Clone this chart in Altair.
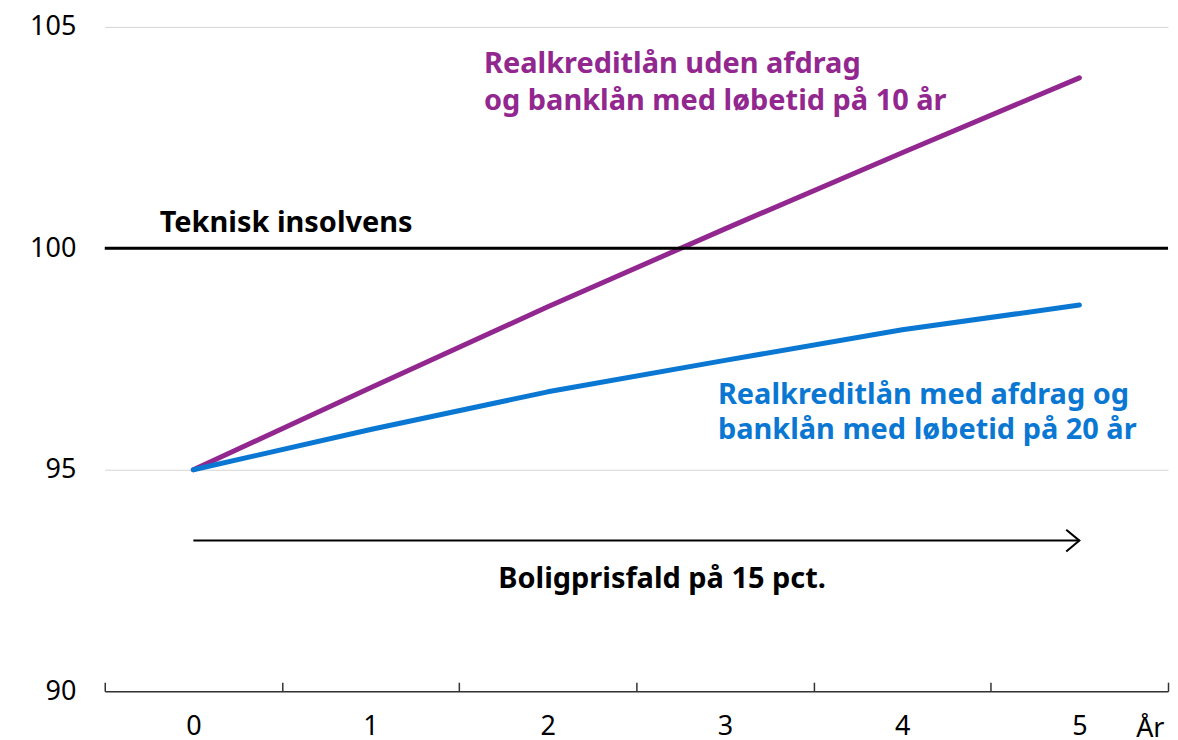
import altair as alt
import pandas as pd

years = [0, 1, 2, 3, 4, 5]
purple_vals = [95.0, 96.85, 98.68, 100.44, 102.16, 103.85]
blue_vals = [95.0, 95.91, 96.76, 97.47, 98.16, 98.72]
purple_name = "Realkreditlån uden afdrag og banklån med løbetid på 10 år"
blue_name = "Realkreditlån med afdrag og banklån med løbetid på 20 år"
colors = ["#92278F", "#0A78D2"]

y_ticks = [90, 95, 100, 105]
x_tick_bounds = [-0.5, 0.5, 1.5, 2.5, 3.5, 4.5, 5.5]
insolvency_level = [100]
arrow_start, arrow_end, arrow_level = [0], [5], [93.4]

ann_text = ["Realkreditlån uden afdrag", "og banklån med løbetid på 10 år",
            "Realkreditlån med afdrag og", "banklån med løbetid på 20 år",
            "Teknisk insolvens", "Boligprisfald på 15 pct."]
ann_x = [1.64, 1.64, 2.96, 2.96, -0.19, 2.645]
ann_y = [103.96, 103.13, 96.49, 95.70, 100.38, 92.32]
ann_color = ["#92278F", "#92278F", "#0A78D2", "#0A78D2", "#000000", "#000000"]
ann_align = ["left", "left", "left", "left", "left", "center"]

unit_label = ["År"]
unit_x = [5.40]
unit_y = [88.96]

FONT = "Noto Sans"
W, H = 1066, 666

lines_df = pd.DataFrame({
    "year": years * 2,
    "value": purple_vals + blue_vals,
    "series": [purple_name] * len(years) + [blue_name] * len(years),
})
ann_df = pd.DataFrame({"text": ann_text, "x": ann_x, "y": ann_y,
                       "color": ann_color, "align": ann_align})

xscale = alt.Scale(domain=[-0.5, 5.5], nice=False, zero=False)
yscale = alt.Scale(domain=[90, 105], nice=False, zero=False)
yaxis = alt.Axis(
    values=y_ticks, domain=False, ticks=False, grid=True, gridColor="#d4d4d4", gridWidth=1,
    labelFontSize=27, labelFont=FONT, labelColor="#000000", labelPadding=29, title=None)


def Y(field):
    return alt.Y(field, scale=yscale, axis=yaxis)


lines = alt.Chart(lines_df).mark_line(strokeWidth=5, strokeCap="round", strokeJoin="round").encode(
    x=alt.X("year:Q", scale=xscale, axis=alt.Axis(
        orient="bottom", values=years, format="d", domain=False, ticks=False, grid=False,
        labelFontSize=27, labelFont=FONT, labelColor="#000000", labelPadding=22, title=None)),
    y=Y("value:Q"),
    color=alt.Color("series:N", scale=alt.Scale(domain=[purple_name, blue_name], range=colors), legend=None),
    detail="series:N",
)

insolvency = alt.Chart(pd.DataFrame({"v": insolvency_level})).mark_rule(
    color="#000000", strokeWidth=3).encode(y=Y("v:Q"))

arrow_df = pd.DataFrame({"x0": arrow_start, "x1": arrow_end, "y": arrow_level})
arrow_line = alt.Chart(arrow_df).mark_rule(color="#000000", strokeWidth=2).encode(
    x=alt.X("x0:Q", scale=xscale, axis=alt.Axis(
        orient="top", offset=-H, values=x_tick_bounds, labels=False, grid=False,
        domain=True, domainColor="#333333", domainWidth=1.5,
        ticks=True, tickColor="#333333", tickWidth=1.5, tickSize=9, title=None)),
    x2="x1:Q",
    y=Y("y:Q"),
)
arrow_head = alt.Chart(arrow_df).mark_point(
    shape="M -1.2 -1 L 0 0 L -1.2 1", filled=False, size=484, stroke="#000000",
    strokeWidth=2, opacity=1).encode(
    x=alt.X("x1:Q", scale=xscale, axis=None),
    y=Y("y:Q"),
)

ann_left = alt.Chart(ann_df[ann_df["align"] == "left"]).mark_text(
    font=FONT, fontSize=29, fontWeight="bold", align="left", baseline="alphabetic").encode(
    x=alt.X("x:Q", scale=xscale, axis=None),
    y=Y("y:Q"),
    text="text:N",
    color=alt.Color("color:N", scale=None),
)
ann_center = alt.Chart(ann_df[ann_df["align"] == "center"]).mark_text(
    font=FONT, fontSize=29, fontWeight="bold", align="center", baseline="alphabetic").encode(
    x=alt.X("x:Q", scale=xscale, axis=None),
    y=Y("y:Q"),
    text="text:N",
    color=alt.Color("color:N", scale=None),
)
unit = alt.Chart(pd.DataFrame({"t": unit_label, "x": unit_x, "y": unit_y})).mark_text(
    font=FONT, fontSize=27, align="center", baseline="alphabetic", color="#000000").encode(
    x=alt.X("x:Q", scale=xscale, axis=None),
    y=Y("y:Q"),
    text="t:N",
)

chart = alt.layer(
    lines, insolvency, arrow_line, arrow_head, ann_left, ann_center, unit
).resolve_axis(x="independent").properties(
    width=W, height=H, background="white",
    padding={"left": 21, "top": 4, "right": 0, "bottom": 4},
).configure_view(strokeWidth=0, stroke="transparent")

chart.save("out.html", embed_options={"renderer": "svg", "actions": False})
